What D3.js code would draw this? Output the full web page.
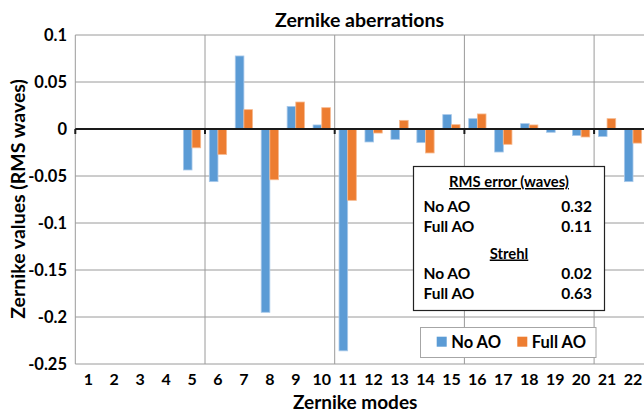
<!DOCTYPE html>
<html><head><meta charset="utf-8">
<script src="https://cdn.jsdelivr.net/npm/d3@7"></script>
<style>
html,body{margin:0;padding:0;background:#fff;}
svg text{font-family:Lato,"Liberation Sans",sans-serif;font-weight:bold;fill:#000;}
</style></head>
<body>
<svg id="chart" width="644" height="413"></svg>
<script>
const modes = [1,2,3,4,5,6,7,8,9,10,11,12,13,14,15,16,17,18,19,20,21,22];
const seriesNames = ["No AO","Full AO"];
const noAO   = [0,0,0,0,-0.0436,-0.056,0.0777,-0.195,0.024,0.0043,-0.236,-0.0138,-0.011,-0.0145,0.0153,0.011,-0.0245,0.0057,-0.0035,-0.007,-0.008,-0.056];
const fullAO = [0,0,0,0,-0.020,-0.027,0.0206,-0.054,0.0287,0.0227,-0.0759,-0.0043,0.0092,-0.0255,0.0046,0.016,-0.0163,0.0043,0,-0.0085,0.011,-0.015];
const yTicks = [0.1,0.05,0,-0.05,-0.1,-0.15,-0.2,-0.25];
const yTickLabels = ["0.1","0.05","0","-0.05","-0.1","-0.15","-0.2","-0.25"];
const colors = ["#5B9BD5","#ED7D31"];
const strokes = ["#a9c9ea","#f6b98f"];
const statsRMS = [["No AO","0.32"],["Full AO","0.11"]];
const statsStrehl = [["No AO","0.02"],["Full AO","0.63"]];

const svg = d3.select("#chart");
const pLeft = 75.3, pTop = 35, pBottom = 364, band = 25.94;
const pRight = pLeft + band*modes.length;

const x = d3.scaleBand().domain(modes).range([pLeft, pRight]).padding(0);
const xs = d3.scaleBand().domain(seriesNames).range([band/6, band*5/6]).padding(0);
const y = d3.scaleLinear().domain([-0.25, 0.1]).range([pBottom, pTop]);

// horizontal gridlines
svg.append("g").selectAll("line").data(yTicks).join("line")
  .attr("x1", pLeft).attr("x2", 644)
  .attr("y1", d=>y(d)).attr("y2", d=>y(d))
  .attr("stroke", "#9a9a9a").attr("stroke-width", 1);

// vertical gridlines every 5 modes
const vLines = [5,10,15,20];
svg.append("g").selectAll("line").data(vLines).join("line")
  .attr("x1", d=>x(d)+band).attr("x2", d=>x(d)+band)
  .attr("y1", pTop).attr("y2", pBottom)
  .attr("stroke", "#9a9a9a").attr("stroke-width", 1);

// left axis line
svg.append("line").attr("x1", pLeft).attr("x2", pLeft).attr("y1", pTop).attr("y2", pBottom)
  .attr("stroke", "#9a9a9a").attr("stroke-width", 1);

// bars
const series = [noAO, fullAO];
series.forEach((vals, si) => {
  svg.append("g").selectAll("rect").data(modes.map((m,i)=>({m, v: vals[i]})).filter(d => d.v !== 0)).join("rect")
    .attr("x", d => x(d.m) + xs(seriesNames[si]))
    .attr("width", xs.bandwidth())
    .attr("y", d => Math.min(y(d.v), y(0)))
    .attr("height", d => Math.abs(y(d.v) - y(0)))
    .attr("fill", colors[si])
    .attr("stroke", strokes[si]).attr("stroke-width", 0.8);
});

// zero axis line
svg.append("line").attr("x1", pLeft).attr("x2", 644).attr("y1", y(0)).attr("y2", y(0))
  .attr("stroke", "#1a1a1a").attr("stroke-width", 2);
// small tick marks below zero line
svg.append("g").selectAll("line").data([0].concat(vLines)).join("line")
  .attr("x1", d => d===0 ? pLeft : x(d)+band).attr("x2", d => d===0 ? pLeft : x(d)+band)
  .attr("y1", y(0)).attr("y2", y(0)+5)
  .attr("stroke", "#1a1a1a").attr("stroke-width", 2);

// y tick labels
svg.append("g").selectAll("text").data(yTicks).join("text")
  .attr("x", 67).attr("y", d => y(d)).attr("dy", "0.36em")
  .attr("text-anchor", "end").attr("font-size", 16.5)
  .text((d,i) => yTickLabels[i]);

// x tick labels
svg.append("g").selectAll("text").data(modes).join("text")
  .attr("x", d => x(d) + band/2).attr("y", 385)
  .attr("text-anchor", "middle").attr("font-size", 16)
  .text(d => d);

// titles
svg.append("text").attr("x", 275).attr("y", 27).attr("text-anchor", "start")
  .attr("font-size", 19.5).text("Zernike aberrations");
svg.append("text").attr("x", 293).attr("y", 408.5).attr("text-anchor", "start")
  .attr("font-size", 19).text("Zernike modes");
svg.append("text").attr("transform", "translate(24.5,199) rotate(-90)")
  .attr("text-anchor", "middle").attr("font-size", 19.5).text("Zernike values (RMS waves)");

// stats box
const sb = svg.append("g");
sb.append("rect").attr("x", 413.5).attr("y", 166.5).attr("width", 191).attr("height", 144)
  .attr("fill", "#fff").attr("stroke", "#222").attr("stroke-width", 1.2);
function header(txt, yy){
  sb.append("text").attr("x", 509).attr("y", yy).attr("text-anchor","middle")
    .attr("font-size", 14.8).attr("text-decoration","underline").text(txt);
}
header("RMS error (waves)", 187);
header("Strehl", 258.5);
function rows(data, ys){
  data.forEach((r,i) => {
    sb.append("text").attr("x", 423.5).attr("y", ys[i]).attr("font-size", 15.5).text(r[0]);
    sb.append("text").attr("x", 592).attr("y", ys[i]).attr("text-anchor","end").attr("font-size", 15.5).text(r[1]);
  });
}
rows(statsRMS, [212, 232]);
rows(statsStrehl, [278.5, 298.5]);

// legend
const lg = svg.append("g");
lg.append("rect").attr("x", 420.5).attr("y", 327.5).attr("width", 175.5).attr("height", 30)
  .attr("fill", "#fff").attr("stroke", "#a6a6a6").attr("stroke-width", 1);
const legX = [436.7, 517.3];
seriesNames.forEach((n,i) => {
  lg.append("rect").attr("x", legX[i]).attr("y", 336.7).attr("width", 10).attr("height", 10).attr("fill", colors[i]);
  lg.append("text").attr("x", legX[i]+14.5).attr("y", 348).attr("font-size", 16.5).text(n);
});
</script>
</body></html>
